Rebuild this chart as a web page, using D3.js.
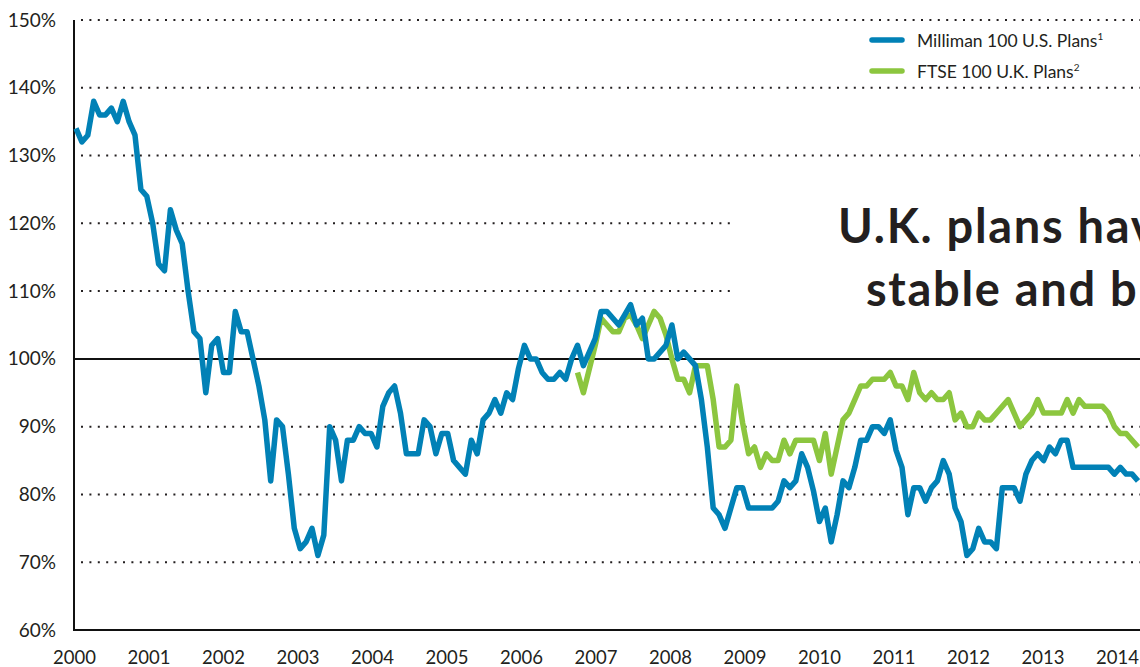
<!DOCTYPE html>
<html>
<head>
<meta charset="utf-8">
<script src="https://cdn.jsdelivr.net/npm/d3@7"></script>
<style>
  html, body { margin: 0; padding: 0; background: #fff; overflow: hidden; }
  svg { display: block; }
  text { font-family: Lato, "Open Sans", sans-serif; fill: #231f20; }
</style>
</head>
<body>
<svg id="chart" width="1140" height="667"></svg>
<script>
// ---------- DATA ----------
const yearLabels = [2000, 2001, 2002, 2003, 2004, 2005, 2006, 2007, 2008, 2009, 2010, 2011, 2012, 2013, 2014];
const yTicks = [60, 70, 80, 90, 100, 110, 120, 130, 140, 150];

// Milliman 100 U.S. Plans funded ratio (%), one value per period starting early 2000
const usValues = [
  134, 132, 133, 138, 136, 136, 137, 135, 138, 135,
  133, 125, 124, 120, 114, 113, 122, 119, 117, 110,
  104, 103, 95, 102, 103, 98, 98, 107, 104, 104,
  100, 96, 91, 82, 91, 90, 83, 75, 72, 73,
  75, 71, 74, 90, 88, 82, 88, 88, 90, 89,
  89, 87, 93, 95, 96, 92, 86, 86, 86, 91,
  90, 86, 89, 89, 85, 84, 83, 88, 86, 91,
  92, 94, 92, 95, 94, 98.6, 102, 100, 100, 98,
  97, 97, 98, 97, 100, 102, 99, 101, 103, 107,
  107, 106, 105, 106.5, 108, 105, 106, 100, 100, 101,
  102, 105, 100, 101, 100, 99, 94, 87, 78, 77,
  75, 78, 81, 81, 78, 78, 78, 78, 78, 79,
  82, 81, 82, 86, 84, 80.5, 76, 78, 73, 77,
  82, 81, 84, 88, 88, 90, 90, 89, 91, 86.5,
  84, 77, 81, 81, 79, 81, 82, 85, 83, 78,
  76, 71, 72, 75, 73, 73, 72, 81, 81, 81,
  79, 83, 85, 86, 85, 87, 86, 88, 88, 84,
  84, 84, 84, 84, 84, 84, 83, 84, 83, 83,
  82
];

// FTSE 100 U.K. Plans funded ratio (%), begins at period index 85
const ukStart = 85;
const ukValues = [
  98, 95, 98.5, 102, 106, 105, 104, 104, 106, 106.5,
  105, 103, 105, 107, 106, 103.5, 100, 97, 97, 95,
  99, 99, 99, 94, 87, 87, 88, 96, 90.5, 86,
  87, 84, 86, 85, 85, 88, 86, 88, 88, 88,
  88, 85, 89, 83, 87, 91, 92, 94, 96, 96,
  97, 97, 97, 98, 96, 96, 94, 98, 95, 94,
  95, 94, 94, 95, 91, 92, 90, 90, 92, 91,
  91, 92, 93, 94, 92, 90, 91, 92, 94, 92,
  92, 92, 92, 94, 92, 94, 93, 93, 93, 93,
  92, 90, 89, 89, 88, 87
];

const seriesNames = ["Milliman 100 U.S. Plans", "FTSE 100 U.K. Plans"];
const seriesNotes = ["1", "2"];
const titleLines = ["U.K. plans have", "stable and b"];

// ---------- BUILD ----------
const usData = usValues.map((v, i) => ({ i, v }));
const ukData = ukValues.map((v, k) => ({ i: ukStart + k, v }));

const svg = d3.select("#chart");
const W = 1140, H = 667;
const plotLeft = 74, plotTop = 20, plotBottom = 630;

const y = d3.scaleLinear().domain([60, 150]).range([plotBottom, plotTop]);
const xIdx = d3.scaleLinear().domain([0, 180]).range([76, 1138]);
const xYear = d3.scaleLinear().domain([2000, 2014]).range([74, 1117]);

const blue = "#0181b6";
const green = "#8cc63f";

// dotted gridlines
const grid = svg.append("g");
grid.selectAll("line.dot")
  .data(yTicks.filter(t => t !== 60 && t !== 100))
  .join("line")
  .attr("x1", 81).attr("x2", W)
  .attr("y1", d => y(d)).attr("y2", d => y(d))
  .attr("stroke", "#231f20")
  .attr("stroke-width", 2)
  .attr("stroke-dasharray", "2 6.4");

// white panel behind the title
svg.append("rect")
  .attr("x", 735).attr("y", 178)
  .attr("width", W - 735).attr("height", 150)
  .attr("fill", "#fff");

// 100% reference line
svg.append("line")
  .attr("x1", plotLeft).attr("x2", W)
  .attr("y1", y(100)).attr("y2", y(100))
  .attr("stroke", "#111").attr("stroke-width", 2);

// axes
const yAxis = d3.axisLeft(y).tickValues(yTicks).tickSize(0).tickPadding(18)
  .tickFormat(d => d + "%");
const gy = svg.append("g").attr("transform", `translate(${plotLeft},0)`).call(yAxis);
gy.select(".domain").remove();
gy.selectAll("text").attr("font-size", 19).attr("font-family", "Lato, sans-serif").attr("fill", "#231f20");

const xAxis = d3.axisBottom(xYear).tickValues(yearLabels).tickSize(0).tickPadding(21)
  .tickFormat(d3.format("d"));
const gx = svg.append("g").attr("transform", `translate(0,${plotBottom})`).call(xAxis);
gx.select(".domain").remove();
gx.selectAll("text").attr("font-size", 18.5).attr("font-family", "Lato, sans-serif").attr("fill", "#231f20");

svg.append("line")
  .attr("x1", plotLeft).attr("x2", plotLeft)
  .attr("y1", plotTop).attr("y2", plotBottom + 1)
  .attr("stroke", "#111").attr("stroke-width", 2);
svg.append("line")
  .attr("x1", plotLeft - 1).attr("x2", W)
  .attr("y1", plotBottom).attr("y2", plotBottom)
  .attr("stroke", "#111").attr("stroke-width", 2);

// series lines
const line = d3.line().x(d => xIdx(d.i)).y(d => y(d.v));
svg.append("path").datum(ukData)
  .attr("d", line).attr("fill", "none")
  .attr("stroke", green).attr("stroke-width", 5.5)
  .attr("stroke-linejoin", "round").attr("stroke-linecap", "butt");
svg.append("path").datum(usData)
  .attr("d", line).attr("fill", "none")
  .attr("stroke", blue).attr("stroke-width", 5.5)
  .attr("stroke-linejoin", "round").attr("stroke-linecap", "butt");

// legend
const legend = svg.append("g");
const legendItems = seriesNames.map((n, k) => ({ name: n, note: seriesNotes[k], color: k === 0 ? blue : green, k }));
const li = legend.selectAll("g").data(legendItems).join("g")
  .attr("transform", d => `translate(0,${40 + d.k * 31})`);
li.append("line")
  .attr("x1", 872).attr("x2", 902).attr("y1", 0).attr("y2", 0)
  .attr("stroke", d => d.color).attr("stroke-width", 5.5).attr("stroke-linecap", "round");
const lt = li.append("text")
  .attr("x", 917).attr("y", 6.5)
  .attr("font-size", 17.5);
lt.append("tspan").text(d => d.name);
lt.append("tspan").attr("font-size", 10).attr("dy", -6.5).text(d => d.note);

// title annotation
svg.append("text").attr("x", 838).attr("y", 243)
  .attr("font-size", 47).attr("font-weight", 700).attr("fill", "#000")
  .attr("letter-spacing", 1.7)
  .text(titleLines[0]);
svg.append("text").attr("x", 866).attr("y", 306)
  .attr("font-size", 47).attr("font-weight", 700).attr("fill", "#000")
  .attr("letter-spacing", 1.7)
  .text(titleLines[1]);
</script>
</body>
</html>
